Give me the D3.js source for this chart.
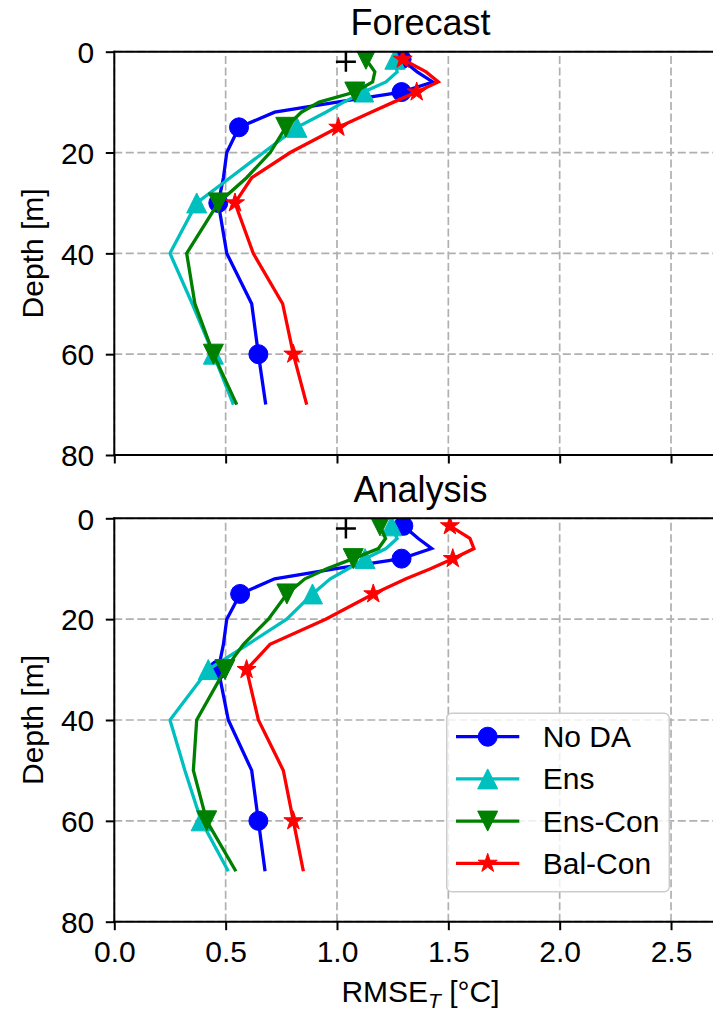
<!DOCTYPE html>
<html>
<head>
<meta charset="utf-8">
<script src="https://cdn.jsdelivr.net/npm/d3@7"></script>
<style>
  body { margin: 0; background: #fff; }
  svg text { font-family: "Liberation Sans", Arial, sans-serif; fill: #000; }
</style>
</head>
<body>
<svg id="chart" width="713" height="1012"></svg>
<script>
// 深度层 [m]
const depths = [1.5, 4, 6, 8, 10, 12, 15, 20, 25, 30, 40, 50, 60, 70];
const seriesNames = ['No DA', 'Ens', 'Ens-Con', 'Bal-Con'];

// Forecast RMSE_T [°C]
const fcNoDA   = [1.29, 1.36, 1.43, 1.29, 1.00, 0.72, 0.56, 0.505, 0.49, 0.467, 0.505, 0.617, 0.647, 0.68];
const fcEns    = [1.26, 1.27, 1.22, 1.12, 1.03, 0.95, 0.82, 0.67, 0.52, 0.37, 0.25, 0.35, 0.445, 0.535];
const fcEnsCon = [1.13, 1.17, 1.16, 1.08, 0.92, 0.84, 0.77, 0.70, 0.594, 0.467, 0.325, 0.362, 0.445, 0.55];
const fcBalCon = [1.295, 1.40, 1.455, 1.358, 1.254, 1.153, 1.006, 0.79, 0.617, 0.542, 0.624, 0.756, 0.804, 0.864];

// Analysis RMSE_T [°C]
const anNoDA   = [1.298, 1.365, 1.425, 1.29, 0.996, 0.72, 0.565, 0.505, 0.49, 0.467, 0.512, 0.617, 0.647, 0.677];
const anEns    = [1.245, 1.27, 1.22, 1.126, 1.05, 0.97, 0.89, 0.774, 0.60, 0.422, 0.25, 0.317, 0.39, 0.512];
const anEnsCon = [1.193, 1.218, 1.186, 1.073, 0.954, 0.856, 0.775, 0.692, 0.58, 0.497, 0.37, 0.355, 0.415, 0.546];
const anBalCon = [1.507, 1.597, 1.615, 1.52, 1.42, 1.31, 1.163, 0.949, 0.699, 0.594, 0.647, 0.759, 0.804, 0.849];

// 黑色 "+" 点 [RMSE, depth]
const plusPoint = [1.04, 2];

const xTicks = [0, 0.5, 1.0, 1.5, 2.0, 2.5];
const yTicks = [0, 20, 40, 60, 80];

const colors = ['#0000ff', '#00bfbf', '#008000', '#ff0000'];
const markers = ['o', '^', 'v', '*'];
const markEvery = 3;
const markerSize = 20;

const svg = d3.select('#chart');
svg.append('rect').attr('width', 713).attr('height', 1012).attr('fill', '#fff');

const left = 114.3, right = 726.7;
let x = d3.scaleLinear().domain([0, 2.75]).range([left, right]);

// 标记形状
function markerPath(type, s) {
    let r = s / 2;
    if (type === 'o') return d3.symbol(d3.symbolCircle, Math.PI * (r - 0.5) * (r - 0.5))();
    if (type === '^') return `M0,${-r}L${r},${r}L${-r},${r}Z`;
    if (type === 'v') return `M0,${r}L${r},${-r}L${-r},${-r}Z`;
    // star
    let pts = [];
    for (let i = 0; i < 10; i++) {
        let rad = i % 2 === 0 ? r : r * 0.381;
        let a = -Math.PI / 2 + i * Math.PI / 5;
        pts.push([rad * Math.cos(a), rad * Math.sin(a)]);
    }
    return 'M' + pts.map(p => p[0].toFixed(2) + ',' + p[1].toFixed(2)).join('L') + 'Z';
}

const panels = [
    { title: 'Forecast', top: 51.7, bottom: 455, data: [fcNoDA, fcEns, fcEnsCon, fcBalCon], showX: false, legend: false },
    { title: 'Analysis', top: 518.3, bottom: 921.7, data: [anNoDA, anEns, anEnsCon, anBalCon], showX: true, legend: true }
];

panels.forEach(function(p, pi) {
    let y = d3.scaleLinear().domain([0, 80]).range([p.top, p.bottom]);
    let g = svg.append('g');
    let clipId = 'clip' + pi;
    svg.append('clipPath').attr('id', clipId)
        .append('rect').attr('x', left).attr('y', p.top)
        .attr('width', right - left).attr('height', p.bottom - p.top);

    // 网格
    let grid = g.append('g').attr('stroke', '#b0b0b0').attr('stroke-width', 1.7)
        .attr('stroke-dasharray', '8,3.5').attr('fill', 'none');
    xTicks.forEach(function(t) {
        grid.append('line').attr('x1', x(t)).attr('x2', x(t)).attr('y1', p.bottom).attr('y2', p.top);
    });
    yTicks.forEach(function(t) {
        grid.append('line').attr('x1', left).attr('x2', right).attr('y1', y(t)).attr('y2', y(t));
    });

    // 曲线与标记
    let plot = g.append('g').attr('clip-path', `url(#${clipId})`);
    let lineGenerator = d3.line()
        .x(function(d) { return x(d[0]); })
        .y(function(d) { return y(d[1]); });
    p.data.forEach(function(vals, si) {
        let pts = vals.map((v, i) => [v, depths[i]]);
        plot.append('path')
            .attr('d', lineGenerator(pts))
            .attr('fill', 'none')
            .attr('stroke', colors[si])
            .attr('stroke-width', 3.3)
            .attr('stroke-linejoin', 'miter');
        plot.selectAll(null)
            .data(pts.filter((d, i) => i % markEvery === 0))
            .enter().append('path')
            .attr('d', markerPath(markers[si], markerSize))
            .attr('transform', d => `translate(${x(d[0])},${y(d[1])})`)
            .attr('fill', colors[si])
            .attr('stroke', colors[si])
            .attr('stroke-width', 1);
    });
    plot.append('path')
        .attr('d', 'M-10,0H10M0,-10V10')
        .attr('transform', `translate(${x(plusPoint[0])},${y(plusPoint[1])})`)
        .attr('stroke', '#000').attr('stroke-width', 2.5).attr('fill', 'none');

    // 坐标轴
    let xAxis = d3.axisBottom(x).tickValues(xTicks).tickSize(8.5).tickPadding(11)
        .tickFormat(p.showX ? d3.format('.1f') : '');
    let gx = g.append('g').attr('transform', `translate(0,${p.bottom})`).call(xAxis);
    let yAxis = d3.axisLeft(y).tickValues(yTicks).tickSize(8.5).tickPadding(11.5);
    let gy = g.append('g').attr('transform', `translate(${left},0)`).call(yAxis);
    [gx, gy].forEach(function(a) {
        a.select('.domain').remove();
        a.selectAll('.tick line').attr('stroke', '#000').attr('stroke-width', 2);
        a.selectAll('.tick text').attr('font-size', 30).attr('font-family', '"Liberation Sans", Arial, sans-serif');
    });
    gy.selectAll('.tick text').attr('dy', '0.36em');

    // 边框
    let spines = g.append('g').attr('stroke', '#000').attr('stroke-width', 2).attr('fill', 'none');
    spines.append('line').attr('x1', left).attr('x2', left).attr('y1', p.top - 1).attr('y2', p.bottom + 1);
    spines.append('line').attr('x1', left - 1).attr('x2', right).attr('y1', p.top).attr('y2', p.top);
    spines.append('line').attr('x1', left - 1).attr('x2', right).attr('y1', p.bottom).attr('y2', p.bottom);
    spines.append('line').attr('x1', right).attr('x2', right).attr('y1', p.top).attr('y2', p.bottom);

    // 标题
    g.append('text').text(p.title)
        .attr('x', (left + right) / 2).attr('y', p.top - 16.7)
        .attr('text-anchor', 'middle').attr('font-size', 36);

    // 纵轴标签
    g.append('text').text('Depth [m]')
        .attr('transform', `translate(43,${(p.top + p.bottom) / 2}) rotate(-90)`)
        .attr('text-anchor', 'middle').attr('font-size', 30);

    if (p.showX) {
        let lbl = g.append('text')
            .attr('x', (left + right) / 2).attr('y', 1002)
            .attr('text-anchor', 'middle').attr('font-size', 30);
        lbl.append('tspan').text('RMSE');
        lbl.append('tspan').text('T').attr('font-style', 'italic').attr('font-size', 21).attr('dy', 6);
        lbl.append('tspan').text(' [°C]').attr('dy', -6);
    }

    if (p.legend) {
        let lg = g.append('g');
        lg.append('rect')
            .attr('x', 446.7).attr('y', 713.3).attr('width', 222.6).attr('height', 178.4)
            .attr('rx', 5).attr('ry', 5)
            .attr('fill', '#fff').attr('fill-opacity', 0.8)
            .attr('stroke', '#cccccc').attr('stroke-width', 1.5);
        seriesNames.forEach(function(name, si) {
            let ry = 736.7 + si * 42.2;
            lg.append('line').attr('x1', 456).attr('x2', 519.3).attr('y1', ry).attr('y2', ry)
                .attr('stroke', colors[si]).attr('stroke-width', 3.3);
            lg.append('path').attr('d', markerPath(markers[si], markerSize))
                .attr('transform', `translate(487.7,${ry})`)
                .attr('fill', colors[si]).attr('stroke', colors[si]).attr('stroke-width', 1);
            lg.append('text').text(name).attr('x', 542.7).attr('y', ry).attr('dy', '0.35em')
                .attr('font-size', 30);
        });
    }
});
</script>
</body>
</html>
